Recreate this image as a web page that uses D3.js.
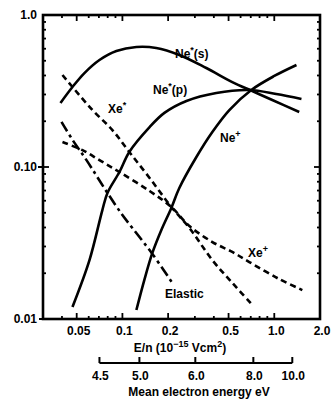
<!DOCTYPE html>
<html><head><meta charset="utf-8">
<script src="https://cdn.jsdelivr.net/npm/d3@7"></script>
<style>
body{margin:0;background:#fff;}
svg text{font-family:"Liberation Sans",Arial,sans-serif;font-weight:bold;fill:#000;}
</style></head>
<body><svg id="c" width="334" height="400"></svg>
<script>
// E/n values (10^-15 V cm^2) and fractional power
const neS_x = [0.0391,0.0469,0.0562,0.0706,0.0913,0.1236,0.167,0.237,0.357,0.529,0.716,0.970,1.46];
const neS_y = [0.264,0.336,0.415,0.506,0.580,0.616,0.607,0.546,0.448,0.362,0.316,0.276,0.230];
const neP_x = [0.0469,0.0607,0.0738,0.0797,0.0956,0.111,0.151,0.189,0.264,0.415,0.685,1.03,1.51];
const neP_y = [0.0120,0.0244,0.0521,0.0675,0.0927,0.1256,0.183,0.227,0.272,0.307,0.321,0.302,0.280];
const nePlus_x = [0.1236,0.1395,0.1575,0.1805,0.210,0.237,0.307,0.391,0.506,0.706,1.0,1.40];
const nePlus_y = [0.01146,0.0181,0.0272,0.0385,0.0538,0.0728,0.1164,0.170,0.237,0.321,0.397,0.469];
const xeS_x = [0.0403,0.0469,0.0635,0.0859,0.111,0.151,0.210,0.276,0.391,0.529,0.716];
const xeS_y = [0.403,0.336,0.237,0.175,0.1256,0.0847,0.0546,0.0397,0.0244,0.0173,0.0124];
const xePlus_x = [0.0403,0.0546,0.0706,0.0956,0.151,0.210,0.276,0.391,0.529,0.685,1.079,1.53];
const xePlus_y = [0.146,0.129,0.111,0.0927,0.0695,0.0546,0.0409,0.0321,0.0276,0.0237,0.0183,0.0155];
const elastic_x = [0.0397,0.0469,0.058,0.0797,0.1,0.1163,0.1575,0.213];
const elastic_y = [0.198,0.151,0.111,0.0675,0.0483,0.0397,0.0268,0.0173];

const xTickVals = [0.05,0.1,0.2,0.5,1.0,2.0];
const xTickLabels = ["0.05","0.1","0.2","0.5","1.0","2.0"];
const yTickVals = [1.0,0.1,0.01];
const yTickLabels = ["1.0","0.10","0.01"];
const energyLabels = ["4.5","5.0","6.0","8.0","10.0"];
const energyEn = [0.0706,0.1294,0.302,0.728,1.314];

const svg = d3.select("#c");
const L=43,R=320,T=15,B=319;
const x = d3.scaleLog().domain([0.03,2]).range([L,R]);
const y = d3.scaleLog().domain([0.01,1]).range([B,T]);

// minor / major ticks
const xMinor=[], yMinor=[];
[0.01,0.1,1].forEach(d=>{for(let k=1;k<10;k++){const v=d*k; if(v>=0.03-1e-9&&v<=2+1e-9) xMinor.push(v);}});
[0.01,0.1].forEach(d=>{for(let k=1;k<10;k++){yMinor.push(d*k);}});
const g = svg.append("g");
// frame
g.append("rect").attr("x",L).attr("y",T).attr("width",R-L).attr("height",B-T)
 .attr("fill","none").attr("stroke","#000").attr("stroke-width",2.6);
const isMajX = v=>xTickVals.some(t=>Math.abs(t-v)<1e-9);
xMinor.forEach(v=>{
  const len = isMajX(v)?6:3;
  g.append("line").attr("x1",x(v)).attr("x2",x(v)).attr("y1",B).attr("y2",B-len).attr("stroke","#000").attr("stroke-width",1.8);
  g.append("line").attr("x1",x(v)).attr("x2",x(v)).attr("y1",T).attr("y2",T+len).attr("stroke","#000").attr("stroke-width",1.8);
});
yMinor.forEach(v=>{
  const len = Math.abs(v-0.1)<1e-9?6:3;
  g.append("line").attr("x1",L).attr("x2",L+len).attr("y1",y(v)).attr("y2",y(v)).attr("stroke","#000").attr("stroke-width",1.8);
  g.append("line").attr("x1",R).attr("x2",R-len).attr("y1",y(v)).attr("y2",y(v)).attr("stroke","#000").attr("stroke-width",1.8);
});
g.append("line").attr("x1",L-5).attr("x2",L).attr("y1",y(0.1)).attr("y2",y(0.1)).attr("stroke","#000").attr("stroke-width",2);
g.append("line").attr("x1",L-4).attr("x2",L).attr("y1",y(0.01)).attr("y2",y(0.01)).attr("stroke","#000").attr("stroke-width",2);

// tick labels
xTickVals.forEach((v,i)=>{
  g.append("text").attr("x",x(v)+2).attr("y",B+16).attr("text-anchor","middle").attr("font-size",12).text(xTickLabels[i]);
});
yTickVals.forEach((v,i)=>{
  g.append("text").attr("x",L-6).attr("y",y(v)+4).attr("text-anchor","end").attr("font-size",12).text(yTickLabels[i]);
});
// x title
const xt = g.append("text").attr("x",180).attr("y",352).attr("text-anchor","middle").attr("font-size",12);
xt.append("tspan").text("E/n (10");
xt.append("tspan").attr("dy",-5).attr("font-size",9).text("\u221215");
xt.append("tspan").attr("dy",5).text(" Vcm");
xt.append("tspan").attr("dy",-5).attr("font-size",9).text("2");
xt.append("tspan").attr("dy",5).text(")");

// secondary energy axis
const yE = 363;
g.append("line").attr("x1",x(energyEn[0])).attr("x2",x(energyEn[energyEn.length-1])).attr("y1",yE).attr("y2",yE).attr("stroke","#000").attr("stroke-width",2);
energyEn.forEach((v,i)=>{
  g.append("line").attr("x1",x(v)).attr("x2",x(v)).attr("y1",yE).attr("y2",yE-6).attr("stroke","#000").attr("stroke-width",2);
  g.append("text").attr("x",x(v)+1).attr("y",yE+17).attr("text-anchor","middle").attr("font-size",12).text(energyLabels[i]);
});
g.append("text").attr("x",199).attr("y",yE+33).attr("text-anchor","middle").attr("font-size",12).text("Mean electron energy eV");

// curves
const line = d3.line().x(d=>x(d[0])).y(d=>y(d[1])).curve(d3.curveCatmullRom.alpha(0.5));
const series = [
 {xs:neS_x, ys:neS_y, dash:null},
 {xs:neP_x, ys:neP_y, dash:null},
 {xs:nePlus_x, ys:nePlus_y, dash:null},
 {xs:xeS_x, ys:xeS_y, dash:"6,4"},
 {xs:xePlus_x, ys:xePlus_y, dash:"6,4"},
 {xs:elastic_x, ys:elastic_y, dash:"11,4,3,4"}
];
series.forEach(s=>{
  g.append("path").datum(s.xs.map((v,i)=>[v,s.ys[i]])).attr("d",line)
   .attr("fill","none").attr("stroke","#000").attr("stroke-width",2.6)
   .attr("stroke-dasharray",s.dash);
});

// labels
function lab(px,py,base,sup,rest){
  const t=g.append("text").attr("x",px).attr("y",py).attr("font-size",12);
  t.append("tspan").text(base);
  if(sup){t.append("tspan").attr("dy",-5).attr("font-size",9).text(sup);
          t.append("tspan").attr("dy",5).text(rest||"");}
}
lab(175,58,"Ne","*","(s)");
lab(153,94,"Ne","*","(p)");
lab(108,113,"Xe","*","");
lab(220,142,"Ne","+","");
lab(248,257,"Xe","+","");
lab(165,298,"Elastic");
</script></body></html>
